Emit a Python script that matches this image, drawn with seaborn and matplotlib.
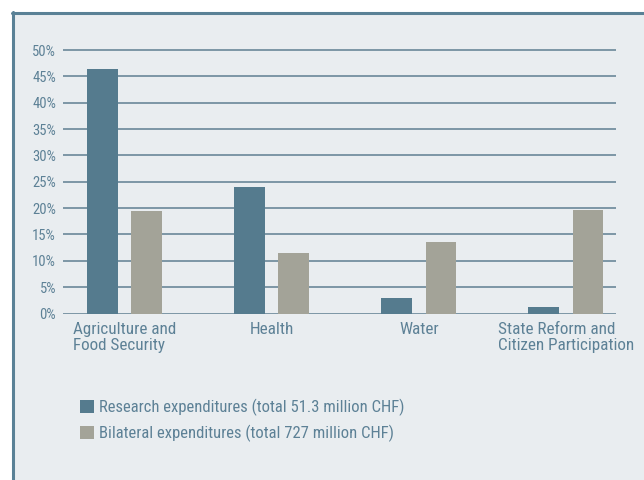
import matplotlib
matplotlib.use("Agg")
import matplotlib.pyplot as plt
from matplotlib.lines import Line2D
from matplotlib.patches import Rectangle, Patch
import matplotlib.font_manager as fm
import seaborn as sns
import pandas as pd

categories = ["Agriculture and\nFood Security", "Health", "Water", "State Reform and\nCitizen Participation"]
research = [46.4, 24.1, 2.85, 1.3]
bilateral = [19.5, 11.4, 13.6, 19.7]
series_names = ["Research expenditures (total 51.3 million CHF)",
                "Bilateral expenditures (total 727 million CHF)"]
yticks = [0, 5, 10, 15, 20, 25, 30, 35, 40, 45, 50]

df = pd.DataFrame({
    "category": categories * 2,
    "value": research + bilateral,
    "series": [series_names[0]] * 4 + [series_names[1]] * 4,
})

sns.set_theme(style="white")
names = {f.name for f in fm.fontManager.ttflist}
fam = None
for cand in ["Roboto Condensed", "Liberation Sans Narrow", "Open Sans Condensed", "DejaVu Sans Condensed"]:
    if cand in names:
        fam = cand
        break
if fam is None:
    fam = "DejaVu Sans"
    plt.rcParams["font.stretch"] = "condensed"
plt.rcParams["font.family"] = [fam, "DejaVu Sans"]

BG = "#e9edf0"
TXT = "#5d8196"
GRID = "#5f7f92"
C_RES = "#557b8e"
C_BIL = "#a3a398"

fig = plt.figure(figsize=(6.44, 4.8), dpi=100)
fig.patch.set_facecolor("white")
W, H = 644, 480
fig.patches.append(Rectangle((13 / W, 0), 1 - 13 / W, 1 - 12 / H, transform=fig.transFigure,
                             facecolor=BG, edgecolor="none", zorder=-5))
fig.lines.append(Line2D([13 / W, 13 / W], [0, 1 - 12 / H], transform=fig.transFigure,
                        color="#5a8196", lw=2.2, zorder=-4))
fig.lines.append(Line2D([12 / W, 1], [1 - 12.5 / H, 1 - 12.5 / H], transform=fig.transFigure,
                        color="#5a8196", lw=2.2, zorder=-4))

ax = fig.add_axes([63 / W, 1 - 313.5 / H, (616 - 63) / W, (313.5 - 48.5) / H])
ax.set_facecolor("none")
ax.set_zorder(2)
sns.barplot(data=df, x="category", y="value", hue="series", order=categories,
            palette=[C_RES, C_BIL], width=0.6, gap=0.3, ax=ax, legend=False,
            saturation=1, zorder=3, linewidth=0, edgecolor="none")
ax.set_xlim(-0.42, 3.34)
ax.set_ylim(0, 50.3)
ax.set_yticks(yticks)
ax.set_yticklabels([f"{t}%" for t in yticks])
for t in yticks:
    ax.axhline(t, color=GRID, lw=1.1, zorder=1)
for s in ax.spines.values():
    s.set_visible(False)
ax.set_xlabel("")
ax.set_ylabel("")
ax.tick_params(axis="y", length=0, pad=5, labelsize=10.5, labelcolor=TXT)
ax.tick_params(axis="x", length=0, pad=6, labelsize=12.3, labelcolor=TXT)
for lab in ax.get_xticklabels():
    lab.set_verticalalignment("top")
    lab.set_multialignment("left")
    lab.set_linespacing(1.1)

handles = [Patch(facecolor=C_RES, edgecolor="none"), Patch(facecolor=C_BIL, edgecolor="none")]
leg = fig.legend(handles, series_names, loc="upper left",
                 bbox_to_anchor=(73 / W, 1 - 392 / H), frameon=False,
                 fontsize=12, handlelength=0.85, handleheight=0.85,
                 handletextpad=0.3, labelspacing=0.55, borderaxespad=0)
for t in leg.get_texts():
    t.set_color(TXT)

fig.savefig("out.png", dpi=100, facecolor=fig.get_facecolor())
